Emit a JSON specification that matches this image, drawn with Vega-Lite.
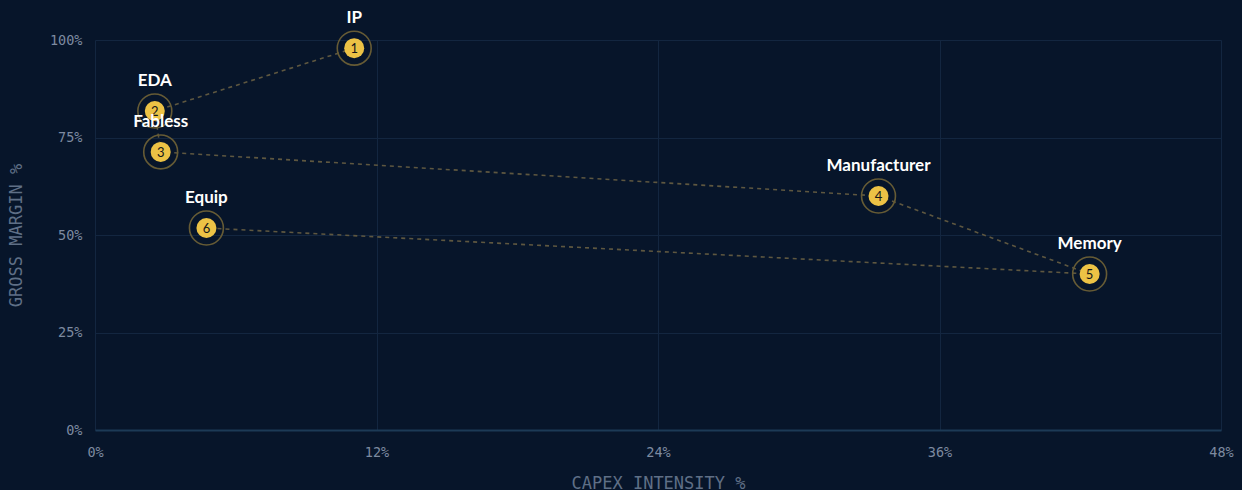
{
  "$schema": "https://vega.github.io/schema/vega-lite/v6.json",
  "width": 1126,
  "height": 390,
  "autosize": {"type": "none"},
  "padding": {"left": 95, "top": 40, "right": 21, "bottom": 60},
  "background": "#07152a",
  "config": {
    "view": {"stroke": null},
    "axis": {
      "labelFont": "DejaVu Sans Mono",
      "labelFontSize": 13.5,
      "labelColor": "#7d8aa0",
      "titleFont": "DejaVu Sans Mono",
      "titleFontSize": 17,
      "titleFontWeight": "normal",
      "titleColor": "#5f6f86",
      "gridColor": "#132640",
      "gridWidth": 1,
      "ticks": false
    }
  },
  "data": {
    "values": [
      {"name": "IP", "order": 1, "capex": 11.05, "margin": 97.9},
      {"name": "EDA", "order": 2, "capex": 2.55, "margin": 81.8},
      {"name": "Fabless", "order": 3, "capex": 2.8, "margin": 71.3},
      {"name": "Manufacturer", "order": 4, "capex": 33.4, "margin": 60.0},
      {"name": "Memory", "order": 5, "capex": 42.4, "margin": 40.0},
      {"name": "Equip", "order": 6, "capex": 4.75, "margin": 51.8}
    ]
  },
  "encoding": {
    "x": {
      "field": "capex",
      "type": "quantitative",
      "scale": {"domain": [0, 48], "nice": false, "zero": true},
      "axis": {
        "values": [0, 12, 24, 36, 48],
        "labelExpr": "datum.value + '%'",
        "title": "CAPEX INTENSITY %",
        "titleBaseline": "middle",
        "titleY": 53,
        "titleX": 563,
        "labelPadding": 15,
        "domainColor": "#1c3a56",
        "domainWidth": 2,
        "labelFlush": false
      }
    },
    "y": {
      "field": "margin",
      "type": "quantitative",
      "scale": {"domain": [0, 100], "nice": false},
      "axis": {
        "values": [0, 25, 50, 75, 100],
        "labelExpr": "datum.value + '%'",
        "title": "GROSS MARGIN %",
        "titleBaseline": "middle",
        "titleX": -79,
        "titleY": 195,
        "labelPadding": 13,
        "domain": false
      }
    }
  },
  "layer": [
    {
      "mark": {"type": "line", "stroke": "#5e5740", "strokeWidth": 1.6, "strokeDash": [4, 4]},
      "encoding": {"order": {"field": "order", "type": "quantitative"}}
    },
    {
      "mark": {"type": "point", "shape": "circle", "size": 1150, "filled": false, "stroke": "#665b35", "strokeWidth": 1.6, "opacity": 1}
    },
    {
      "mark": {"type": "point", "shape": "circle", "size": 400, "filled": true, "color": "#ecc245", "opacity": 1}
    },
    {
      "mark": {"type": "text", "font": "Lato", "fontSize": 13, "fontWeight": "normal", "color": "#15161a", "baseline": "middle", "dy": 1},
      "encoding": {"text": {"field": "order", "type": "quantitative"}}
    },
    {
      "mark": {"type": "text", "font": "Lato", "fontSize": 17, "fontWeight": "bold", "color": "#ffffff", "baseline": "middle", "dy": -30},
      "encoding": {"text": {"field": "name", "type": "nominal"}}
    }
  ]
}
